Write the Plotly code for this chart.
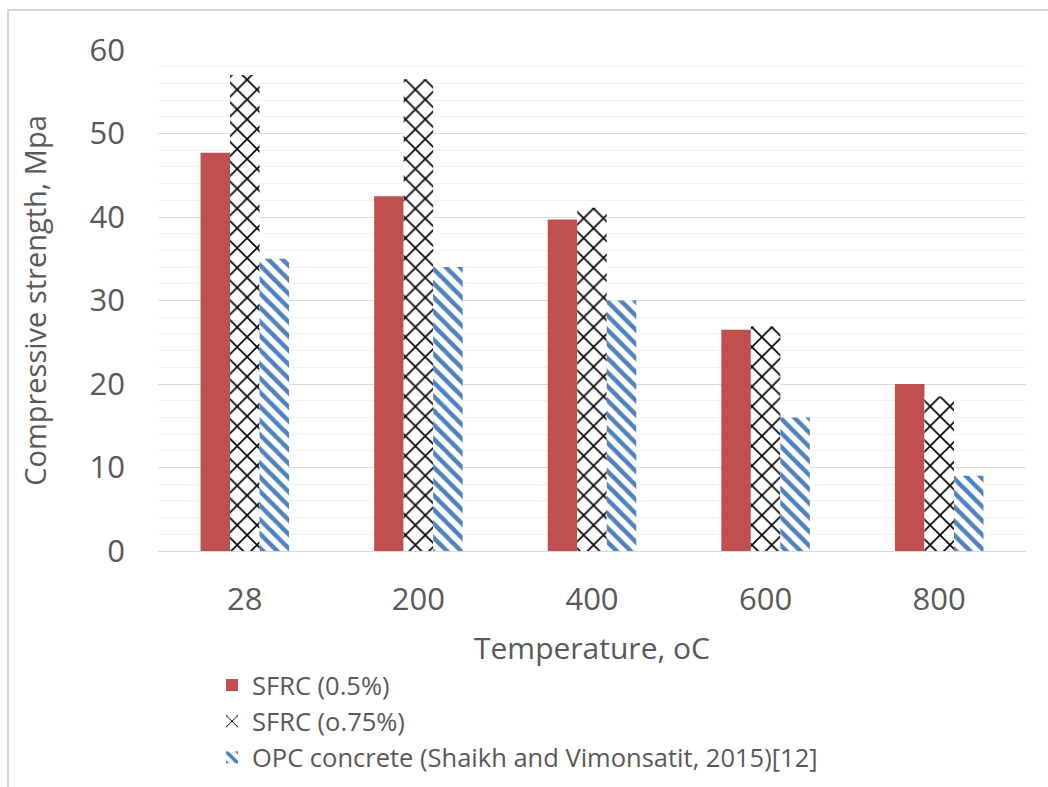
import plotly.graph_objects as go

# Compressive strength of fibre-reinforced and plain concrete after heating
temperatures = ["28", "200", "400", "600", "800"]
sfrc_05 = [47.7, 42.5, 39.7, 26.5, 20.0]
sfrc_075 = [57.0, 56.5, 41.1, 26.9, 18.5]
opc = [35.0, 34.0, 30.0, 16.0, 9.0]

series_names = ["SFRC (0.5%)", "SFRC (o.75%)", "OPC concrete (Shaikh and Vimonsatit, 2015)[12]"]

W, H = 1048, 787
ML, MR, MT, MB = 158, 22, 50, 236
TEXT = "#595959"
FONT = "Open Sans"

fig = go.Figure()
fig.add_trace(go.Bar(
    x=temperatures, y=sfrc_05, name=series_names[0],
    marker=dict(color="#C0504D", line=dict(width=0)),
))
fig.add_trace(go.Bar(
    x=temperatures, y=sfrc_075, name=series_names[1],
    marker=dict(color="white", line=dict(width=0),
                pattern=dict(shape="x", fgcolor="black", bgcolor="white",
                             fgopacity=1, size=14, solidity=0.22)),
))
fig.add_trace(go.Bar(
    x=temperatures, y=opc, name=series_names[2],
    marker=dict(color="white", line=dict(width=0),
                pattern=dict(shape="\\", fgcolor="#4F81BD", bgcolor="white",
                             fgopacity=1, size=10, solidity=0.45)),
))

pw = W - ML - MR
ph = H - MT - MB
# outer chart frame (its right and bottom edges fall outside the page)
fig.add_shape(type="rect", xref="paper", yref="paper",
              x0=(8 - ML) / pw, x1=(W + 20 - ML) / pw,
              y0=-(H + 20 - MT - ph) / ph,
              y1=1 + (MT - 10) / ph,
              line=dict(color="#D6D6D6", width=2), layer="below")

fig.update_layout(
    width=W, height=H,
    margin=dict(l=ML, r=MR, t=MT, b=MB, autoexpand=False),
    paper_bgcolor="white", plot_bgcolor="white",
    barmode="group", bargap=0.49, bargroupgap=0,
    font=dict(family=FONT, color=TEXT),
    xaxis=dict(
        title=dict(text="Temperature, oC", font=dict(size=30, color=TEXT), standoff=19),
        tickfont=dict(size=31, color=TEXT),
        showgrid=False, showline=True, linecolor="#D9D9D9", linewidth=1,
        ticks="", ticklabelstandoff=21,
    ),
    yaxis=dict(
        title=dict(text="Compressive strength, Mpa", font=dict(size=29, color=TEXT), standoff=34),
        tickfont=dict(size=31, color=TEXT),
        range=[0, 60], dtick=10, tick0=0,
        showgrid=True, gridcolor="#D9D9D9", gridwidth=1,
        zeroline=False, showline=False, ticks="",
        minor=dict(dtick=2, showgrid=True, gridcolor="#F2F2F2", gridwidth=1, ticks=""),
        ticklabelstandoff=32,
    ),
    legend=dict(
        orientation="v", x=(212 - ML) / pw, xanchor="left",
        y=-(662 - MT - ph) / ph, yanchor="top",
        font=dict(size=25.5, color=TEXT), tracegroupgap=0,
        itemwidth=30, bgcolor="rgba(0,0,0,0)",
    ),
    showlegend=True,
)

fig.write_html("out.html")
